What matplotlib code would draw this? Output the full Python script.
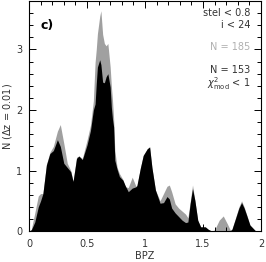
import numpy as np
import matplotlib
matplotlib.use("Agg")
import matplotlib.pyplot as plt

# photometric redshift (BPZ) knots
z = [0.00, 0.02, 0.05, 0.08, 0.10, 0.12, 0.15, 0.18, 0.21, 0.245, 0.27, 0.30,
     0.33, 0.36, 0.38, 0.41, 0.43, 0.46, 0.50, 0.53, 0.555, 0.57, 0.58, 0.59,
     0.61, 0.62, 0.635, 0.65, 0.665, 0.68, 0.70, 0.71, 0.72, 0.73, 0.74, 0.76,
     0.78, 0.81, 0.83, 0.856, 0.89, 0.92, 0.93, 0.96, 0.985, 1.02, 1.04, 1.06,
     1.09, 1.13, 1.16, 1.19, 1.21, 1.23, 1.26, 1.29, 1.32, 1.35, 1.37, 1.39,
     1.41, 1.43, 1.455, 1.48, 1.52, 1.545, 1.575, 1.60, 1.64, 1.675, 1.71,
     1.735, 1.75, 1.776, 1.81, 1.833, 1.855, 1.877, 1.905, 1.95, 2.00]

# all galaxies (N = 185)
n_all = [0, 0.03, 0.30, 0.58, 0.62, 0.62, 1.10, 1.30, 1.40, 1.65, 1.76, 1.45,
         1.12, 1.00, 0.82, 1.22, 1.24, 1.20, 1.50, 1.75, 2.15, 2.79, 3.00, 3.26,
         3.55, 3.64, 3.25, 3.10, 3.06, 3.10, 2.71, 2.40, 2.16, 1.85, 1.33, 1.05,
         0.95, 0.85, 0.73, 0.72, 0.89, 0.75, 0.73, 1.04, 1.25, 1.36, 1.39, 1.05,
         0.68, 0.50, 0.62, 0.74, 0.76, 0.65, 0.45, 0.38, 0.33, 0.28, 0.22, 0.48,
         0.76, 0.51, 0.18, 0.07, 0.07, 0.03, 0, 0.02, 0.18, 0.25, 0.12,
         0.02, 0.03, 0.19, 0.40, 0.50, 0.40, 0.27, 0.10, 0.01, 0]

# selected galaxies (N = 153, chi2_mod < 1)
n_sel = [0, 0.02, 0.15, 0.40, 0.50, 0.62, 1.09, 1.28, 1.33, 1.51, 1.40, 1.12,
         1.05, 0.98, 0.82, 1.20, 1.24, 1.18, 1.42, 1.66, 2.00, 2.10, 2.43, 2.71,
         2.83, 2.75, 2.46, 2.45, 2.55, 2.60, 2.38, 2.05, 1.85, 1.72, 1.17, 1.02,
         0.90, 0.84, 0.75, 0.65, 0.71, 0.73, 0.75, 1.04, 1.25, 1.36, 1.39, 1.05,
         0.68, 0.46, 0.47, 0.57, 0.53, 0.38, 0.30, 0.24, 0.18, 0.14, 0.15, 0.46,
         0.70, 0.51, 0.18, 0.07, 0.07, 0.03, 0, 0, 0, 0, 0,
         0, 0.03, 0.18, 0.38, 0.47, 0.38, 0.26, 0.10, 0.01, 0]

fig = plt.figure(figsize=(2.66, 2.62), dpi=100)
ax = fig.add_axes([0.109, 0.118, 0.872, 0.878])

ax.fill_between(z, n_all, color="#a0a0a0", lw=0)
ax.fill_between(z, n_sel, color="black", lw=0)

ax.set_xlim(0, 2)
ax.set_ylim(0, 3.8)
ax.set_xticks([0, 0.5, 1, 1.5, 2], labels=["0", "0.5", "1", "1.5", "2"])
ax.set_yticks([0, 1, 2, 3])
ax.set_xticks(np.arange(0, 2.01, 0.1), minor=True)
ax.set_yticks(np.arange(0, 3.81, 0.2), minor=True)
ax.tick_params(which="both", direction="in", top=True, right=True,
               labelsize=7, labelcolor="#333333", width=0.7)
ax.tick_params(axis="x", pad=6)
ax.tick_params(axis="y", pad=5)
ax.tick_params(which="major", length=5)
ax.tick_params(which="minor", length=3)
for s in ax.spines.values():
    s.set_linewidth(0.8)

ax.set_xlabel("BPZ", fontsize=7, color="#333333", labelpad=1)
ax.set_ylabel(r"N ($\Delta$z = 0.01)", fontsize=7, color="#333333", labelpad=1)

ax.text(0.05, 0.88, "c)", transform=ax.transAxes, fontsize=9, fontweight="bold")
kw = dict(transform=ax.transAxes, ha="right", fontsize=7, color="#333333")
ax.text(0.955, 0.935, "stel < 0.8", **kw)
ax.text(0.955, 0.883, "i < 24", **kw)
ax.text(0.955, 0.787, "N = 185", transform=ax.transAxes, ha="right",
        fontsize=7, color="#b0b0b0")
ax.text(0.955, 0.687, "N = 153", **kw)
ax.text(0.955, 0.625, r"$\chi^2_{\rm mod}$ < 1", **kw)

fig.savefig("out.png", dpi=100)
